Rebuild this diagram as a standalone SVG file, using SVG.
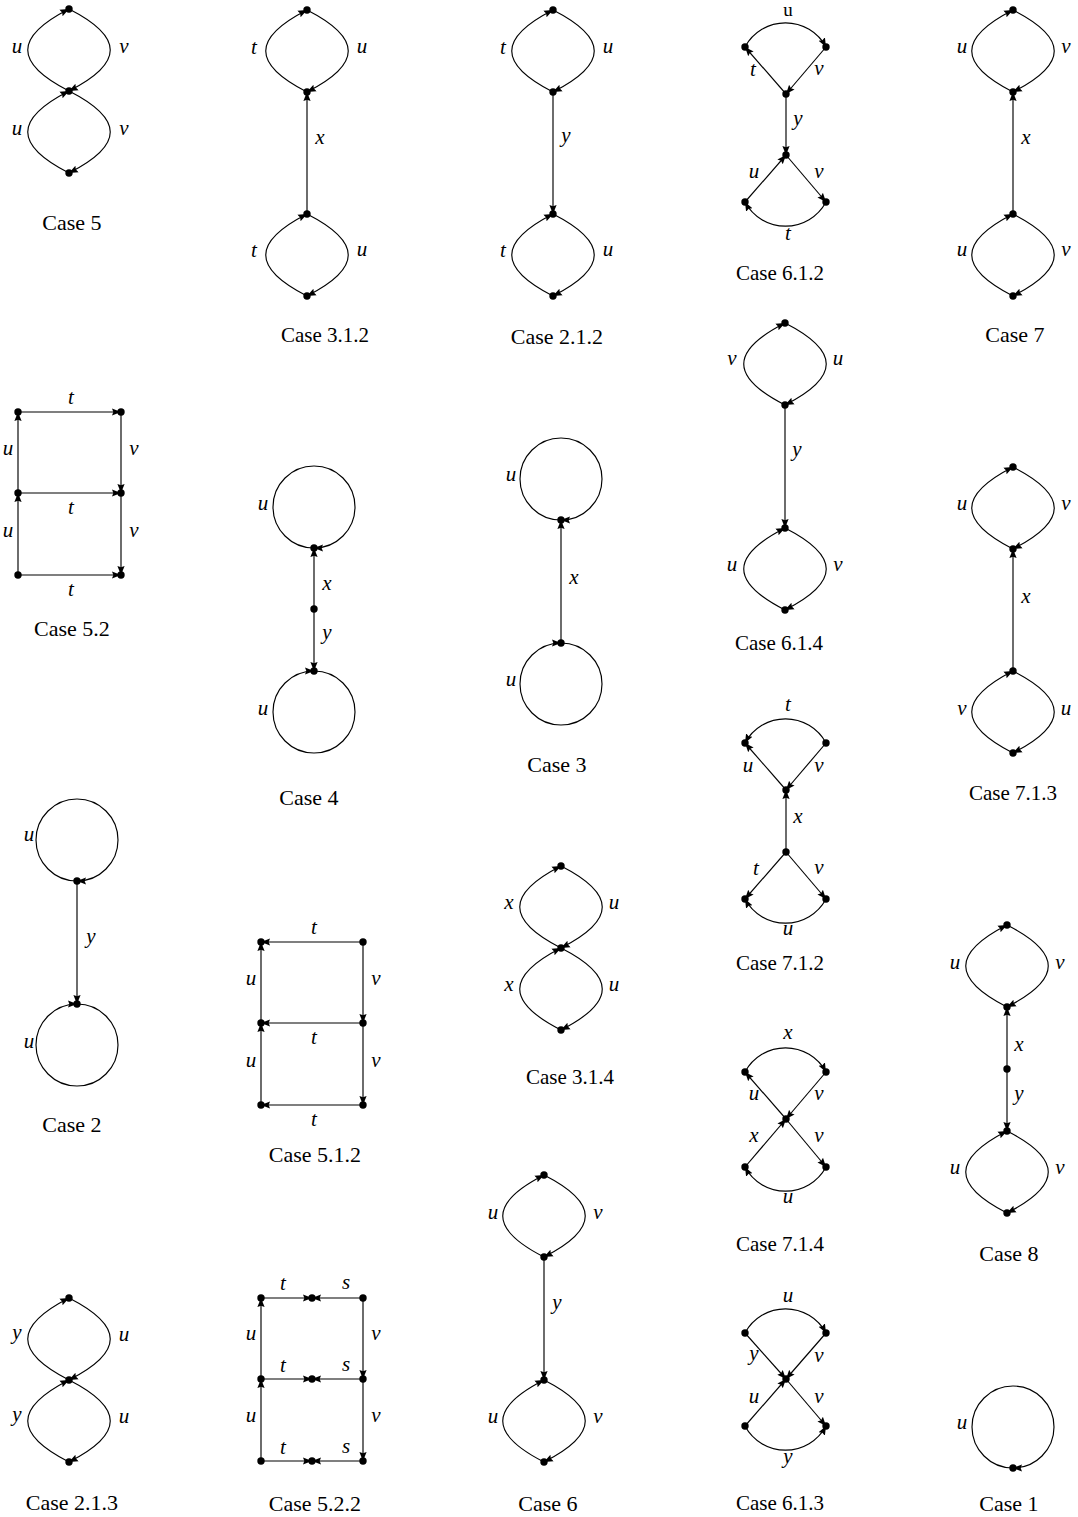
<svg xmlns="http://www.w3.org/2000/svg" width="1078" height="1517" viewBox="0 0 1078 1517">
<style>
.e{fill:none;stroke:#000;stroke-width:1.15;marker-end:url(#ah)}
.l{font-family:"Liberation Serif",serif;font-style:italic;font-size:21px;text-anchor:middle}
.r{font-family:"Liberation Serif",serif;font-size:19px;text-anchor:middle}
.c{font-family:"Liberation Serif",serif;font-size:22px;text-anchor:middle}
.t{font-family:"Liberation Serif",serif;font-size:21px;text-anchor:middle}
</style>
<defs>
<marker id="ah" viewBox="0 0 10 10" refX="10" refY="5" markerWidth="9" markerHeight="9" markerUnits="userSpaceOnUse" orient="auto"><path d="M0,1 L10,5 L0,9 L1.5,5 z" fill="#000"/></marker>
<circle id="d" r="3.7" fill="#000"/>
</defs>
<rect width="1078" height="1517" fill="#fff"/>

<!-- Case 5 -->
<g id="case5">
<g class="connectors">
<g transform="translate(69,9)"><path class="e" d="M0,82 C-55,54 -55,28 0,0"/><path class="e" d="M0,0 C55,28 55,54 0,82"/></g>
<g transform="translate(69,91)"><path class="e" d="M0,82 C-55,54 -55,28 0,0"/><path class="e" d="M0,0 C55,28 55,54 0,82"/></g>
</g>
<g id="case5-n1"><use href="#d" x="69" y="9"/></g><g id="case5-n2"><use href="#d" x="69" y="91"/></g><g id="case5-n3"><use href="#d" x="69" y="173"/></g>
<text class="l" x="17" y="53">u</text><text class="l" x="124" y="53">v</text>
<text class="l" x="17" y="135">u</text><text class="l" x="124" y="135">v</text>
<text class="c" x="72" y="230">Case 5</text>
</g>

<!-- Case 5.2 -->
<g id="case5_2">
<g class="connectors">
<path class="e" d="M18,412 L121,412"/><path class="e" d="M18,493 L121,493"/><path class="e" d="M18,575 L121,575"/>
<path class="e" d="M18,493 L18,412"/><path class="e" d="M18,575 L18,493"/>
<path class="e" d="M121,412 L121,493"/><path class="e" d="M121,493 L121,575"/>
</g>
<use href="#d" x="18" y="412"/><use href="#d" x="121" y="412"/><use href="#d" x="18" y="493"/><use href="#d" x="121" y="493"/><use href="#d" x="18" y="575"/><use href="#d" x="121" y="575"/>
<text class="l" x="71" y="404">t</text><text class="l" x="71" y="514">t</text><text class="l" x="71" y="596">t</text>
<text class="l" x="8" y="455">u</text><text class="l" x="134" y="455">v</text>
<text class="l" x="8" y="537">u</text><text class="l" x="134" y="537">v</text>
<text class="c" x="72" y="636">Case 5.2</text>
</g>

<!-- Case 2 -->
<g id="case2">
<g class="connectors">
<path class="e" d="M77,881 A41,41 0 1 1 77,799 A41,41 0 1 1 77,881"/>
<path class="e" d="M77,881 L77,1004"/>
<path class="e" d="M77,1004 A41,41 0 1 1 77,1086 A41,41 0 1 1 77,1004"/>
</g>
<use href="#d" x="77" y="881"/><use href="#d" x="77" y="1004"/>
<text class="l" x="29" y="841">u</text><text class="l" x="91" y="943">y</text><text class="l" x="29" y="1048">u</text>
<text class="c" x="72" y="1132">Case 2</text>
</g>

<!-- Case 2.1.3 -->
<g id="case2_1_3">
<g class="connectors">
<g transform="translate(69,1298)"><path class="e" d="M0,82 C-55,54 -55,28 0,0"/><path class="e" d="M0,0 C55,28 55,54 0,82"/></g>
<g transform="translate(69,1380)"><path class="e" d="M0,82 C-55,54 -55,28 0,0"/><path class="e" d="M0,0 C55,28 55,54 0,82"/></g>
</g>
<use href="#d" x="69" y="1298"/><use href="#d" x="69" y="1380"/><use href="#d" x="69" y="1462"/>
<text class="l" x="17" y="1339">y</text><text class="l" x="124" y="1341">u</text>
<text class="l" x="17" y="1421">y</text><text class="l" x="124" y="1423">u</text>
<text class="c" x="72" y="1510">Case 2.1.3</text>
</g>

<!-- Case 3.1.2 -->
<g id="case3_1_2">
<g class="connectors">
<g transform="translate(307,10)"><path class="e" d="M0,82 C-55,54 -55,28 0,0"/><path class="e" d="M0,0 C55,28 55,54 0,82"/></g>
<path class="e" d="M307,214 L307,92"/>
<g transform="translate(307,214)"><path class="e" d="M0,82 C-55,54 -55,28 0,0"/><path class="e" d="M0,0 C55,28 55,54 0,82"/></g>
</g>
<use href="#d" x="307" y="10"/><use href="#d" x="307" y="92"/><use href="#d" x="307" y="214"/><use href="#d" x="307" y="296"/>
<text class="l" x="254" y="54">t</text><text class="l" x="362" y="53">u</text><text class="l" x="320" y="144">x</text>
<text class="l" x="254" y="257">t</text><text class="l" x="362" y="256">u</text>
<text class="t" x="325" y="342">Case 3.1.2</text>
</g>

<!-- Case 4 -->
<g id="case4">
<g class="connectors">
<path class="e" d="M314,548 A41,41 0 1 1 314,466 A41,41 0 1 1 314,548"/>
<path class="e" d="M314,609 L314,548"/><path class="e" d="M314,609 L314,671"/>
<path class="e" d="M314,671 A41,41 0 1 1 314,753 A41,41 0 1 1 314,671"/>
</g>
<use href="#d" x="314" y="548"/><use href="#d" x="314" y="609"/><use href="#d" x="314" y="671"/>
<text class="l" x="263" y="510">u</text><text class="l" x="327" y="590">x</text><text class="l" x="327" y="639">y</text><text class="l" x="263" y="715">u</text>
<text class="c" x="309" y="805">Case 4</text>
</g>

<!-- Case 5.1.2 -->
<g id="case5_1_2">
<g class="connectors">
<path class="e" d="M363,942 L261,942"/><path class="e" d="M363,1023 L261,1023"/><path class="e" d="M363,1105 L261,1105"/>
<path class="e" d="M261,1023 L261,942"/><path class="e" d="M261,1105 L261,1023"/>
<path class="e" d="M363,942 L363,1023"/><path class="e" d="M363,1023 L363,1105"/>
</g>
<use href="#d" x="261" y="942"/><use href="#d" x="363" y="942"/><use href="#d" x="261" y="1023"/><use href="#d" x="363" y="1023"/><use href="#d" x="261" y="1105"/><use href="#d" x="363" y="1105"/>
<text class="l" x="314" y="934">t</text><text class="l" x="314" y="1044">t</text><text class="l" x="314" y="1126">t</text>
<text class="l" x="251" y="985">u</text><text class="l" x="376" y="985">v</text>
<text class="l" x="251" y="1067">u</text><text class="l" x="376" y="1067">v</text>
<text class="c" x="315" y="1162">Case 5.1.2</text>
</g>

<!-- Case 5.2.2 -->
<g id="case5_2_2">
<g class="connectors">
<path class="e" d="M261,1298 L312,1298"/><path class="e" d="M363,1298 L312,1298"/>
<path class="e" d="M261,1379 L312,1379"/><path class="e" d="M363,1379 L312,1379"/>
<path class="e" d="M261,1461 L312,1461"/><path class="e" d="M363,1461 L312,1461"/>
<path class="e" d="M261,1379 L261,1298"/><path class="e" d="M261,1461 L261,1379"/>
<path class="e" d="M363,1298 L363,1379"/><path class="e" d="M363,1379 L363,1461"/>
</g>
<use href="#d" x="261" y="1298"/><use href="#d" x="312" y="1298"/><use href="#d" x="363" y="1298"/>
<use href="#d" x="261" y="1379"/><use href="#d" x="312" y="1379"/><use href="#d" x="363" y="1379"/>
<use href="#d" x="261" y="1461"/><use href="#d" x="312" y="1461"/><use href="#d" x="363" y="1461"/>
<text class="l" x="283" y="1290">t</text><text class="l" x="346" y="1289">s</text>
<text class="l" x="283" y="1372">t</text><text class="l" x="346" y="1371">s</text>
<text class="l" x="283" y="1454">t</text><text class="l" x="346" y="1453">s</text>
<text class="l" x="251" y="1340">u</text><text class="l" x="376" y="1340">v</text>
<text class="l" x="251" y="1422">u</text><text class="l" x="376" y="1422">v</text>
<text class="c" x="315" y="1511">Case 5.2.2</text>
</g>

<!-- Case 2.1.2 -->
<g id="case2_1_2">
<g class="connectors">
<g transform="translate(553,10)"><path class="e" d="M0,82 C-55,54 -55,28 0,0"/><path class="e" d="M0,0 C55,28 55,54 0,82"/></g>
<path class="e" d="M553,92 L553,214"/>
<g transform="translate(553,214)"><path class="e" d="M0,82 C-55,54 -55,28 0,0"/><path class="e" d="M0,0 C55,28 55,54 0,82"/></g>
</g>
<use href="#d" x="553" y="10"/><use href="#d" x="553" y="92"/><use href="#d" x="553" y="214"/><use href="#d" x="553" y="296"/>
<text class="l" x="503" y="54">t</text><text class="l" x="608" y="53">u</text><text class="l" x="566" y="142">y</text>
<text class="l" x="503" y="257">t</text><text class="l" x="608" y="256">u</text>
<text class="c" x="557" y="344">Case 2.1.2</text>
</g>

<!-- Case 3 -->
<g id="case3">
<g class="connectors">
<path class="e" d="M561,520 A41,41 0 1 1 561,438 A41,41 0 1 1 561,520"/>
<path class="e" d="M561,643 L561,520"/>
<path class="e" d="M561,643 A41,41 0 1 1 561,725 A41,41 0 1 1 561,643"/>
</g>
<use href="#d" x="561" y="520"/><use href="#d" x="561" y="643"/>
<text class="l" x="511" y="481">u</text><text class="l" x="574" y="584">x</text><text class="l" x="511" y="686">u</text>
<text class="c" x="557" y="772">Case 3</text>
</g>

<!-- Case 3.1.4 -->
<g id="case3_1_4">
<g class="connectors">
<g transform="translate(561,866)"><path class="e" d="M0,82 C-55,54 -55,28 0,0"/><path class="e" d="M0,0 C55,28 55,54 0,82"/></g>
<g transform="translate(561,948)"><path class="e" d="M0,82 C-55,54 -55,28 0,0"/><path class="e" d="M0,0 C55,28 55,54 0,82"/></g>
</g>
<use href="#d" x="561" y="866"/><use href="#d" x="561" y="948"/><use href="#d" x="561" y="1030"/>
<text class="l" x="509" y="909">x</text><text class="l" x="614" y="909">u</text>
<text class="l" x="509" y="991">x</text><text class="l" x="614" y="991">u</text>
<text class="t" x="570" y="1084">Case 3.1.4</text>
</g>

<!-- Case 6 -->
<g id="case6">
<g class="connectors">
<g transform="translate(544,1175)"><path class="e" d="M0,82 C-55,54 -55,28 0,0"/><path class="e" d="M0,0 C55,28 55,54 0,82"/></g>
<path class="e" d="M544,1257 L544,1380"/>
<g transform="translate(544,1380)"><path class="e" d="M0,82 C-55,54 -55,28 0,0"/><path class="e" d="M0,0 C55,28 55,54 0,82"/></g>
</g>
<use href="#d" x="544" y="1175"/><use href="#d" x="544" y="1257"/><use href="#d" x="544" y="1380"/><use href="#d" x="544" y="1462"/>
<text class="l" x="493" y="1219">u</text><text class="l" x="598" y="1219">v</text><text class="l" x="557" y="1309">y</text>
<text class="l" x="493" y="1423">u</text><text class="l" x="598" y="1423">v</text>
<text class="c" x="548" y="1511">Case 6</text>
</g>

<!-- Case 6.1.2 -->
<g id="case6_1_2">
<g class="connectors">
<path class="e" d="M745,47 A46,46 0 0 1 826,47"/>
<path class="e" d="M786,94 L745,47"/>
<path class="e" d="M826,47 L786,94"/>
<path class="e" d="M786,94 L786,155"/>
<path class="e" d="M745,202 L786,155"/>
<path class="e" d="M786,155 L826,202"/>
<path class="e" d="M826,202 A46,46 0 0 1 745,202"/>
</g>
<use href="#d" x="745" y="47"/><use href="#d" x="826" y="47"/><use href="#d" x="786" y="94"/>
<use href="#d" x="786" y="155"/><use href="#d" x="745" y="202"/><use href="#d" x="826" y="202"/>
<text class="r" x="788" y="16">u</text>
<text class="l" x="753" y="76">t</text><text class="l" x="819" y="75">v</text><text class="l" x="798" y="125">y</text>
<text class="l" x="754" y="178">u</text><text class="l" x="819" y="178">v</text><text class="l" x="788" y="240">t</text>
<text class="t" x="780" y="280">Case 6.1.2</text>
</g>

<!-- Case 6.1.4 -->
<g id="case6_1_4">
<g class="connectors">
<g transform="translate(785,323)"><path class="e" d="M0,82 C-55,54 -55,28 0,0"/><path class="e" d="M0,0 C55,28 55,54 0,82"/></g>
<path class="e" d="M785,405 L785,528"/>
<g transform="translate(785,528)"><path class="e" d="M0,82 C-55,54 -55,28 0,0"/><path class="e" d="M0,0 C55,28 55,54 0,82"/></g>
</g>
<use href="#d" x="785" y="323"/><use href="#d" x="785" y="405"/><use href="#d" x="785" y="528"/><use href="#d" x="785" y="610"/>
<text class="l" x="732" y="365">v</text><text class="l" x="838" y="365">u</text><text class="l" x="797" y="456">y</text>
<text class="l" x="732" y="571">u</text><text class="l" x="838" y="571">v</text>
<text class="t" x="779" y="650">Case 6.1.4</text>
</g>

<!-- Case 7.1.2 -->
<g id="case7_1_2">
<g class="connectors">
<path class="e" d="M826,743 A46,46 0 0 0 745,743"/>
<path class="e" d="M786,790 L745,743"/>
<path class="e" d="M826,743 L786,790"/>
<path class="e" d="M786,852 L786,790"/>
<path class="e" d="M786,852 L745,899"/>
<path class="e" d="M786,852 L826,899"/>
<path class="e" d="M826,899 A46,46 0 0 1 745,899"/>
</g>
<use href="#d" x="745" y="743"/><use href="#d" x="826" y="743"/><use href="#d" x="786" y="790"/>
<use href="#d" x="786" y="852"/><use href="#d" x="745" y="899"/><use href="#d" x="826" y="899"/>
<text class="l" x="788" y="711">t</text>
<text class="l" x="748" y="772">u</text><text class="l" x="819" y="772">v</text><text class="l" x="798" y="823">x</text>
<text class="l" x="756" y="875">t</text><text class="l" x="819" y="874">v</text><text class="l" x="788" y="935">u</text>
<text class="t" x="780" y="970">Case 7.1.2</text>
</g>

<!-- Case 7.1.4 -->
<g id="case7_1_4">
<g class="connectors">
<path class="e" d="M745,1072 A46,46 0 0 1 826,1072"/>
<path class="e" d="M786,1119 L745,1072"/>
<path class="e" d="M826,1072 L786,1119"/>
<path class="e" d="M745,1167 L786,1119"/>
<path class="e" d="M786,1119 L826,1167"/>
<path class="e" d="M826,1167 A46,46 0 0 1 745,1167"/>
</g>
<use href="#d" x="745" y="1072"/><use href="#d" x="826" y="1072"/><use href="#d" x="786" y="1119"/>
<use href="#d" x="745" y="1167"/><use href="#d" x="826" y="1167"/>
<text class="l" x="788" y="1039">x</text>
<text class="l" x="754" y="1100">u</text><text class="l" x="819" y="1100">v</text>
<text class="l" x="754" y="1142">x</text><text class="l" x="819" y="1142">v</text>
<text class="l" x="788" y="1203">u</text>
<text class="t" x="780" y="1251">Case 7.1.4</text>
</g>

<!-- Case 6.1.3 -->
<g id="case6_1_3">
<g class="connectors">
<path class="e" d="M745,1333 A46,46 0 0 1 826,1333"/>
<path class="e" d="M745,1333 L786,1379"/>
<path class="e" d="M826,1333 L786,1379"/>
<path class="e" d="M745,1426 L786,1379"/>
<path class="e" d="M786,1379 L826,1426"/>
<path class="e" d="M745,1426 A46,46 0 0 0 826,1426"/>
</g>
<use href="#d" x="745" y="1333"/><use href="#d" x="826" y="1333"/><use href="#d" x="786" y="1379"/>
<use href="#d" x="745" y="1426"/><use href="#d" x="826" y="1426"/>
<text class="l" x="788" y="1302">u</text>
<text class="l" x="754" y="1360">y</text><text class="l" x="819" y="1362">v</text>
<text class="l" x="754" y="1403">u</text><text class="l" x="819" y="1403">v</text>
<text class="l" x="788" y="1463">y</text>
<text class="t" x="780" y="1510">Case 6.1.3</text>
</g>

<!-- Case 7 -->
<g id="case7">
<g class="connectors">
<g transform="translate(1013,10)"><path class="e" d="M0,82 C-55,54 -55,28 0,0"/><path class="e" d="M0,0 C55,28 55,54 0,82"/></g>
<path class="e" d="M1013,214 L1013,92"/>
<g transform="translate(1013,214)"><path class="e" d="M0,82 C-55,54 -55,28 0,0"/><path class="e" d="M0,0 C55,28 55,54 0,82"/></g>
</g>
<use href="#d" x="1013" y="10"/><use href="#d" x="1013" y="92"/><use href="#d" x="1013" y="214"/><use href="#d" x="1013" y="296"/>
<text class="l" x="962" y="53">u</text><text class="l" x="1066" y="53">v</text><text class="l" x="1026" y="144">x</text>
<text class="l" x="962" y="256">u</text><text class="l" x="1066" y="256">v</text>
<text class="c" x="1015" y="342">Case 7</text>
</g>

<!-- Case 7.1.3 -->
<g id="case7_1_3">
<g class="connectors">
<g transform="translate(1013,467)"><path class="e" d="M0,82 C-55,54 -55,28 0,0"/><path class="e" d="M0,0 C55,28 55,54 0,82"/></g>
<path class="e" d="M1013,671 L1013,549"/>
<g transform="translate(1013,671)"><path class="e" d="M0,82 C-55,54 -55,28 0,0"/><path class="e" d="M0,0 C55,28 55,54 0,82"/></g>
</g>
<use href="#d" x="1013" y="467"/><use href="#d" x="1013" y="549"/><use href="#d" x="1013" y="671"/><use href="#d" x="1013" y="753"/>
<text class="l" x="962" y="510">u</text><text class="l" x="1066" y="510">v</text><text class="l" x="1026" y="603">x</text>
<text class="l" x="962" y="715">v</text><text class="l" x="1066" y="715">u</text>
<text class="t" x="1013" y="800">Case 7.1.3</text>
</g>

<!-- Case 8 -->
<g id="case8">
<g class="connectors">
<g transform="translate(1007,925)"><path class="e" d="M0,82 C-55,54 -55,28 0,0"/><path class="e" d="M0,0 C55,28 55,54 0,82"/></g>
<path class="e" d="M1007,1069 L1007,1007"/><path class="e" d="M1007,1069 L1007,1131"/>
<g transform="translate(1007,1131)"><path class="e" d="M0,82 C-55,54 -55,28 0,0"/><path class="e" d="M0,0 C55,28 55,54 0,82"/></g>
</g>
<use href="#d" x="1007" y="925"/><use href="#d" x="1007" y="1007"/><use href="#d" x="1007" y="1069"/><use href="#d" x="1007" y="1131"/><use href="#d" x="1007" y="1213"/>
<text class="l" x="955" y="969">u</text><text class="l" x="1060" y="969">v</text><text class="l" x="1019" y="1051">x</text><text class="l" x="1019" y="1100">y</text>
<text class="l" x="955" y="1174">u</text><text class="l" x="1060" y="1174">v</text>
<text class="c" x="1009" y="1261">Case 8</text>
</g>

<!-- Case 1 -->
<g id="case1">
<g class="connectors">
<path class="e" d="M1013,1468 A41,41 0 1 1 1013,1386 A41,41 0 1 1 1013,1468"/>
</g>
<use href="#d" x="1013" y="1468"/>
<text class="l" x="962" y="1429">u</text>
<text class="c" x="1009" y="1511">Case 1</text>
</g>
</svg>
